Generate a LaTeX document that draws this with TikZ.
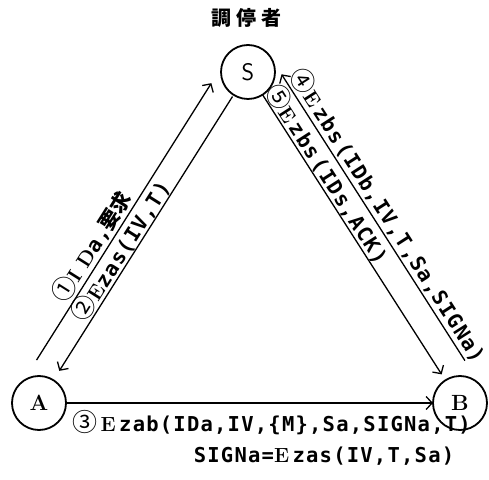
\documentclass[tikz,border=0pt]{standalone}
\usepackage{fontspec}
\newfontfamily\labfont[LetterSpace=6]{DejaVu Sans Mono}
\newfontfamily\cjk{Noto Sans CJK JP}
\newcommand\stepno[1]{{\cjk\mdseries\fontsize{25}{25}\selectfont #1}}
\usetikzlibrary{arrows.meta, positioning, calc}

\begin{document}
\begin{tikzpicture}[
    x=1pt, y=1pt,
    party/.style={circle, draw, line width=1.8pt, minimum size=54pt,
                  inner sep=0pt, outer sep=0pt, font=\bfseries\fontsize{22}{26}\selectfont},
    msg/.style={line width=1.3pt, -{Straight Barb[length=6pt, width=13pt, line width=1.3pt]}},
    lab/.style={font=\labfont\bfseries\fontsize{20.5}{24}\selectfont, inner sep=1pt}
]
    \useasboundingbox (0,0) rectangle (489,479);

    \node[font=\cjk\bfseries\fontsize{20}{22}\selectfont] (title) at (246,461) {調\hspace{5pt}停\hspace{5pt}者};
    \node[party, font=\sffamily\fontsize{24}{26}\selectfont] (S) at (248,407) {S};
    \node[party] (A) at (39,76) {A};
    \node[party] (B) at (460,76) {B};

    % outer tracks beside the centre lines
    \coordinate (a1) at ($(A)!25pt!90:(S)$);
    \coordinate (s1) at ($(S)!25pt!-90:(A)$);
    \coordinate (b1) at ($(B)!27pt!-90:(S)$);
    \coordinate (s2) at ($(S)!27pt!90:(B)$);

    \draw[msg, shorten <=35pt, shorten >=29pt] (a1) -- node[lab, sloped, pos=0.41, above=1pt] {\stepno{①}{\rmfamily I D}a,{\cjk 要求}} (s1);
    \draw[msg, shorten <=2pt, shorten >=11pt] (S) -- node[lab, sloped, pos=0.57, above=-1pt] {\stepno{②}{\rmfamily E}zas(IV,T)} (A);
    \draw[msg, shorten <=33pt, shorten >=20pt] (b1) -- node[lab, sloped, pos=0.5, above=1pt] {\stepno{④}{\rmfamily E}\,zbs\,(IDb,IV,T,Sa,SIGNa)} (s2);
    \draw[msg, shorten >=7pt] (S) -- node[lab, sloped, pos=0.30, above=-1pt] {\stepno{⑤}{\rmfamily E}\,zbs\,(IDs,ACK)} (B);
    \draw[msg] (A) -- node[lab, pos=0.56, below=6pt] {\stepno{③}\,{\rmfamily E}\,zab(IDa,IV,\{M\},Sa,SIGNa,T)} (B);

    \node[lab] (sig) at (324,23) {SIGNa={\rmfamily E}\,zas(IV,T,Sa)};
\end{tikzpicture}
\end{document}
